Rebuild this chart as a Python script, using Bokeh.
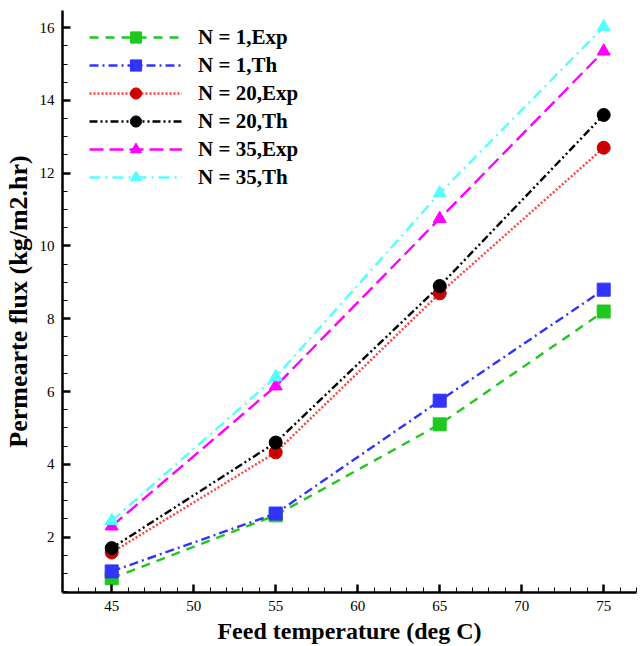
from bokeh.plotting import figure
from bokeh.embed import file_html
from bokeh.resources import INLINE
from bokeh.models import Range1d, SingleIntervalTicker, Legend
from bokeh.core.properties import value

temps = [45, 55, 65, 75]
n1_exp = [0.87, 2.6, 5.1, 8.2]
n1_th = [1.06, 2.65, 5.75, 8.8]
n20_exp = [1.58, 4.33, 8.7, 12.7]
n20_th = [1.7, 4.6, 8.9, 13.6]
n35_exp = [2.3, 6.15, 10.75, 15.35]
n35_th = [2.45, 6.4, 11.45, 16.02]

labels = ["N = 1,Exp", "N = 1,Th", "N = 20,Exp", "N = 20,Th", "N = 35,Exp", "N = 35,Th"]
x_label = "Feed temperature (deg C)"
y_label = "Permearte flux (kg/m2.hr)"

SERIF = "Liberation Serif"

p = figure(width=640, height=646, output_backend="svg", toolbar_location=None,
           x_range=Range1d(42, 77), y_range=Range1d(0.48, 16.47),
           min_border_left=62, min_border_right=4, min_border_top=10, min_border_bottom=54)
p.outline_line_color = None
p.xgrid.visible = False
p.ygrid.visible = False
p.background_fill_color = "white"

series = [
    (n1_exp, "#1ec81e", "9 7", "square", "#1ec81e"),
    (n1_th, "#3333ff", "9 4 2 4", "square", "#3333ff"),
    (n20_exp, "#ff4040", "2 2", "circle", "#cc0000"),
    (n20_th, "#000000", "8 3 2 3 2 3", "circle", "#000000"),
    (n35_exp, "#ff00ff", "14 6", "triangle", "#ff00ff"),
    (n35_th, "#55ffff", "11 5 2 5", "triangle", "#55ffff"),
]

items = []
for (ys, lc, dash, marker, mc), lab in zip(series, labels):
    r1 = p.line(temps, ys, line_color=lc, line_width=2.4, line_dash=dash)
    r2 = p.scatter(temps, ys, marker=marker, size=13, fill_color=mc, line_color=mc)
    items.append((lab, [r1, r2]))

legend = Legend(items=items, location=(27, 401))
legend.border_line_color = None
legend.background_fill_alpha = 0
legend.padding = 0
legend.margin = 0
legend.spacing = 0
legend.glyph_width = 93
legend.glyph_height = 28
legend.label_height = 28
legend.label_standoff = 16
legend.label_text_font = SERIF
legend.label_text_font_style = "bold"
legend.label_text_font_size = "21px"
legend.label_text_color = "black"
p.add_layout(legend, "center")

for ax in (p.xaxis[0], p.yaxis[0]):
    ax.axis_line_width = 2.5
    ax.axis_line_color = "black"
    ax.major_tick_in = 8
    ax.major_tick_out = 0
    ax.minor_tick_in = 5
    ax.minor_tick_out = 0
    ax.major_tick_line_width = 2.5
    ax.minor_tick_line_width = 1
    ax.major_label_text_font = SERIF
    ax.major_label_text_font_size = "15px"
    ax.major_label_text_color = "black"
    ax.axis_label_text_font = SERIF
    ax.axis_label_text_font_style = "bold"
    ax.axis_label_text_color = "black"

p.xaxis[0].ticker = SingleIntervalTicker(interval=5, num_minor_ticks=5)
p.yaxis[0].ticker = SingleIntervalTicker(interval=2, num_minor_ticks=4)
p.xaxis[0].axis_label = x_label
p.yaxis[0].axis_label = y_label
p.xaxis[0].axis_label_text_font_size = "24px"
p.yaxis[0].axis_label_text_font_size = "26px"
p.xaxis[0].major_label_standoff = 8
p.yaxis[0].major_label_standoff = 8
p.xaxis[0].axis_label_standoff = 4
p.yaxis[0].axis_label_standoff = 4

open("out.html", "w").write(file_html(p, INLINE))
